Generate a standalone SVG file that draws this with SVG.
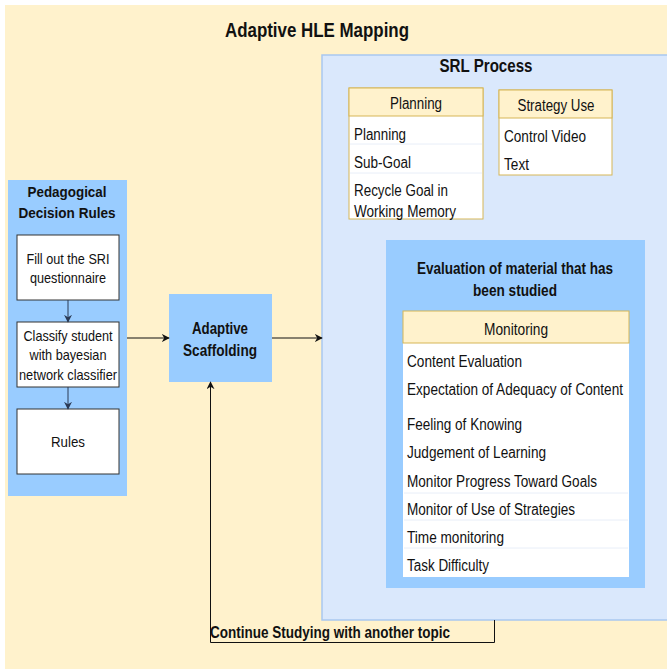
<svg xmlns="http://www.w3.org/2000/svg" width="667" height="669" viewBox="0 0 667 669">
<defs>
<style>
text{font-family:"Liberation Sans",Arial,sans-serif;fill:#111;}
.b{font-weight:bold;}
.c{text-anchor:middle;}
.t16{font-size:16px;}
.t15{font-size:15px;}
.hdr{fill:#fff2cc;stroke:#d6b656;stroke-width:1;}
.body{fill:#fff;stroke:#d6b656;stroke-width:1;}
.sep{stroke:#e8eef8;stroke-width:1;}
.wbox{fill:#fff;stroke:#333;stroke-width:1;}
.blue{fill:#99ccff;}
.edge{fill:none;stroke:#111;stroke-width:1;}
.edge2{fill:none;stroke:#2b3a55;stroke-width:1;}
</style>
<marker id="arr" viewBox="0 0 10 10" refX="9" refY="5" markerWidth="8" markerHeight="8" orient="auto" markerUnits="userSpaceOnUse">
<path d="M0,0 L10,5 L0,10 L3,5 Z" fill="#111"/>
</marker>
<marker id="arr2" viewBox="0 0 10 10" refX="9" refY="5" markerWidth="8" markerHeight="8" orient="auto" markerUnits="userSpaceOnUse">
<path d="M0,0 L10,5 L0,10 L3,5 Z" fill="#2b3a55"/>
</marker>
</defs>

<g id="hle">
<rect x="5" y="5" width="662" height="664" fill="#fff2cc"/>
<text x="317" y="37" class="b c" font-size="21" textLength="184" lengthAdjust="spacingAndGlyphs">Adaptive HLE Mapping</text>
</g>

<g id="srl">
<rect x="322" y="55" width="350" height="565" fill="#dae8fc" stroke="#a9c8f0" stroke-width="1.5"/>
<text x="486" y="72" class="b c" font-size="18" textLength="93" lengthAdjust="spacingAndGlyphs">SRL Process</text>
</g>

<g id="planning">
<rect x="349" y="88" width="134" height="131" class="body"/>
<rect x="349" y="88" width="134" height="28" class="hdr"/>
<line x1="350" y1="144" x2="482" y2="144" class="sep"/>
<line x1="350" y1="173" x2="482" y2="173" class="sep"/>
<text x="416" y="109" class="c t16" textLength="52" lengthAdjust="spacingAndGlyphs">Planning</text>
<text x="354" y="140" class="t16" textLength="52" lengthAdjust="spacingAndGlyphs">Planning</text>
<text x="354" y="168" class="t16" textLength="57" lengthAdjust="spacingAndGlyphs">Sub-Goal</text>
<text x="354" y="196" class="t16" textLength="94" lengthAdjust="spacingAndGlyphs">Recycle Goal in</text>
<text x="354" y="217" class="t16" textLength="102" lengthAdjust="spacingAndGlyphs">Working Memory</text>
</g>

<g id="strategy">
<rect x="499" y="90" width="113" height="85" class="body"/>
<rect x="499" y="90" width="113" height="28" class="hdr"/>
<text x="556" y="111" class="c t16" textLength="77" lengthAdjust="spacingAndGlyphs">Strategy Use</text>
<text x="504" y="142" class="t16" textLength="82" lengthAdjust="spacingAndGlyphs">Control Video</text>
<text x="504" y="170" class="t16" textLength="25" lengthAdjust="spacingAndGlyphs">Text</text>
</g>

<g id="evaluation">
<rect x="386" y="240" width="259" height="348" class="blue"/>
<text x="515" y="274" class="b c t16" textLength="196" lengthAdjust="spacingAndGlyphs">Evaluation of material that has</text>
<text x="515" y="296" class="b c t16" textLength="84" lengthAdjust="spacingAndGlyphs">been studied</text>
</g>

<g id="monitoring">
<rect x="403" y="311" width="226" height="266" fill="#fff"/>
<rect x="403" y="311" width="226" height="32" class="hdr"/>
<line x1="404" y1="493" x2="628" y2="493" class="sep"/>
<line x1="404" y1="520" x2="628" y2="520" class="sep"/>
<line x1="404" y1="548" x2="628" y2="548" class="sep"/>
<text x="516" y="335" class="c t16" textLength="64" lengthAdjust="spacingAndGlyphs">Monitoring</text>
<text x="407" y="367" class="t16" textLength="115" lengthAdjust="spacingAndGlyphs">Content Evaluation</text>
<text x="407" y="395" class="t16" textLength="216" lengthAdjust="spacingAndGlyphs">Expectation of Adequacy of Content</text>
<text x="407" y="430" class="t16" textLength="115" lengthAdjust="spacingAndGlyphs">Feeling of Knowing</text>
<text x="407" y="458" class="t16" textLength="139" lengthAdjust="spacingAndGlyphs">Judgement of Learning</text>
<text x="407" y="487" class="t16" textLength="190" lengthAdjust="spacingAndGlyphs">Monitor Progress Toward Goals</text>
<text x="407" y="515" class="t16" textLength="168" lengthAdjust="spacingAndGlyphs">Monitor of Use of Strategies</text>
<text x="407" y="543" class="t16" textLength="97" lengthAdjust="spacingAndGlyphs">Time monitoring</text>
<text x="407" y="571" class="t16" textLength="82" lengthAdjust="spacingAndGlyphs">Task Difficulty</text>
</g>

<g id="pedagogical">
<rect x="8" y="180" width="119" height="316" class="blue"/>
<text x="67" y="197" class="b c t15" textLength="79" lengthAdjust="spacingAndGlyphs">Pedagogical</text>
<text x="67" y="218" class="b c t15" textLength="97" lengthAdjust="spacingAndGlyphs">Decision Rules</text>
</g>

<g id="fill-sri">
<rect x="17" y="235" width="102" height="65" class="wbox"/>
<text x="68" y="264" class="c t15" textLength="83" lengthAdjust="spacingAndGlyphs">Fill out the SRI</text>
<text x="68" y="283" class="c t15" textLength="76" lengthAdjust="spacingAndGlyphs">questionnaire</text>
</g>

<g id="classify">
<rect x="17" y="322" width="102" height="65" class="wbox"/>
<text x="68" y="341" class="c t15" textLength="89" lengthAdjust="spacingAndGlyphs">Classify student</text>
<text x="68" y="360" class="c t15" textLength="77" lengthAdjust="spacingAndGlyphs">with bayesian</text>
<text x="68" y="380" class="c t15" textLength="98" lengthAdjust="spacingAndGlyphs">network classifier</text>
</g>

<g id="rules">
<rect x="17" y="409" width="102" height="65" class="wbox"/>
<text x="68" y="447" class="c t15" textLength="34" lengthAdjust="spacingAndGlyphs">Rules</text>
</g>

<g id="scaffolding">
<rect x="169" y="294" width="103" height="88" class="blue"/>
<text x="220" y="334" class="b c t16" textLength="56" lengthAdjust="spacingAndGlyphs">Adaptive</text>
<text x="220" y="356" class="b c t16" textLength="74" lengthAdjust="spacingAndGlyphs">Scaffolding</text>
</g>

<g id="connectors">
<line x1="68" y1="300" x2="68" y2="322" class="edge2" marker-end="url(#arr2)"/>
<line x1="68" y1="387" x2="68" y2="409" class="edge2" marker-end="url(#arr2)"/>
<line x1="127" y1="338" x2="169" y2="338" class="edge" marker-end="url(#arr)"/>
<line x1="272" y1="338" x2="322" y2="338" class="edge" marker-end="url(#arr)"/>
<path d="M494.5,620 L494.5,642.5 L210.5,642.5 L210.5,382" class="edge" marker-end="url(#arr)"/>
<text x="210" y="638" class="b t16" textLength="240" lengthAdjust="spacingAndGlyphs">Continue Studying with another topic</text>
</g>
</svg>
